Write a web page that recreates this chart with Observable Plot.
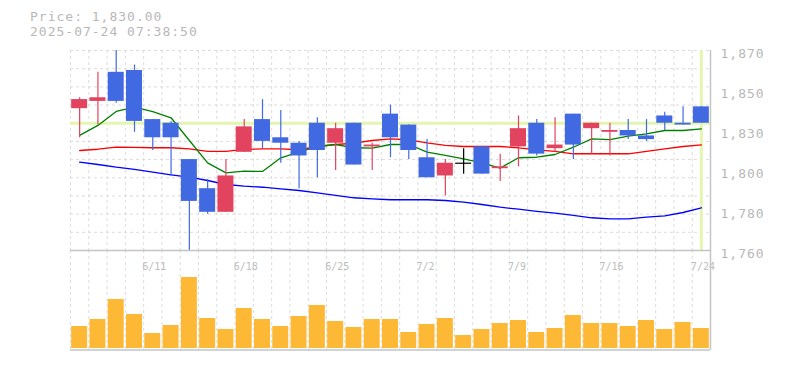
<!DOCTYPE html>
<html><head><meta charset="utf-8">
<script src="https://cdn.jsdelivr.net/npm/d3@7"></script>
<script src="https://cdn.jsdelivr.net/npm/@observablehq/plot@0.6"></script>
<style>
body{margin:0;background:#fff;}
#wrap{position:relative;width:785px;height:370px;overflow:hidden;background:#fff;}
#title{position:absolute;left:30px;top:9px;font-family:"DejaVu Sans Mono",monospace;font-size:13px;letter-spacing:1px;line-height:15px;color:#b8b8b8;white-space:pre;}
#price,#vol{position:absolute;left:0;}
#price{top:0;}
#vol{top:250px;}
#price g.ylab text{letter-spacing:1px;}
</style></head><body>
<div id="wrap"><div id="title"></div><div id="vol"></div><div id="price"></div></div>
<script>
const titleLines = ["Price: 1,830.00", "2025-07-24 07:38:50"];
const dates = ["6/5","6/6","6/9","6/10","6/11","6/12","6/13","6/16","6/17","6/18","6/19","6/20","6/23","6/24","6/25","6/26","6/27","6/30","7/1","7/2","7/3","7/4","7/7","7/8","7/9","7/10","7/11","7/14","7/15","7/16","7/17","7/18","7/22","7/23","7/24"];
const open  = [1838,1842,1858,1859,1832,1830,1810,1794,1781,1814,1832,1822,1819,1830,1819,1830,1817,1835,1829,1811,1801,1808,1817,1805,1817,1830,1816,1835,1827,1825,1826,1823,1834,1830,1839];
const high  = [1844,1858,1870,1862,1832,1831,1810,1799,1810,1832,1843,1837,1820,1833,1830,1830,1819,1840,1829,1821,1810,1816,1817,1813,1834,1832,1833,1835,1830,1830,1832,1832,1836,1839,1839];
const low   = [1822,1829,1841,1825,1815,1801,1760,1780,1781,1814,1816,1808,1794,1800,1804,1807,1804,1811,1810,1800,1790,1802,1802,1798,1806,1812,1814,1810,1813,1812,1821,1820,1826,1829,1830];
const close = [1843,1844,1842,1831,1822,1822,1787,1781,1801,1828,1820,1819,1812,1815,1827,1807,1818,1822,1815,1800,1808,1808,1802,1806,1827,1813,1818,1818,1830,1826,1823,1821,1830,1829,1830];
const ma5   = [1823.3,1828.8,1836.5,1838.8,1836.4,1833.0,1820.5,1808.2,1802.7,1803.6,1803.5,1811.0,1814.1,1817.2,1818.3,1816.5,1816.3,1818.3,1818.3,1814.1,1812.3,1810.4,1808.2,1805.3,1811.0,1811.3,1812.8,1816.8,1821.4,1821.0,1822.9,1824.2,1826.0,1826.0,1826.9];
const ma25  = [1815.0,1815.7,1816.8,1816.7,1816.5,1816.5,1815.9,1814.5,1814.5,1815.6,1815.9,1815.9,1815.4,1817.2,1818.3,1819.0,1820.5,1821.4,1820.9,1819.2,1817.8,1817.2,1817.2,1817.2,1816.5,1815.4,1814.5,1813.2,1813.2,1813.2,1813.2,1814.5,1815.9,1817.2,1818.1];
const ma75  = [1808.6,1807.3,1805.8,1804.6,1803.1,1801.6,1800.3,1798.5,1796.3,1795.4,1794.8,1793.9,1793.0,1791.7,1790.3,1789.0,1788.4,1787.9,1787.9,1787.9,1787.5,1786.6,1785.3,1783.8,1782.7,1781.5,1780.5,1779.3,1778.0,1777.4,1777.4,1778.3,1779.1,1780.9,1783.5];
const volume = [22000,29000,49000,34000,15000,23000,71000,30000,19000,40000,29000,22000,32000,43000,27000,21000,29000,29000,16000,24000,30000,13000,19000,25000,28000,16000,20000,33000,25000,25000,22000,28000,19000,26000,20000];
const yTicks = [1760,1782,1804,1826,1848,1870];
const yTickLabels = ["1,760","1,780","1,800","1,830","1,850","1,870"];
const yGrid = [1770,1780,1790,1800,1810,1820,1830,1840,1850,1860,1870];
const xTickLabels = ["6/11","6/18","6/25","7/2","7/9","7/16","7/24"];
const currentPrice = 1830;

document.getElementById("title").textContent = titleLines.join("\n");

const rows = dates.map((d,i)=>({date:d,open:open[i],high:high[i],low:low[i],close:close[i],ma5:ma5[i],ma25:ma25[i],ma75:ma75[i],volume:volume[i]}));
const upC = "#e2435f", downC = "#4169e1";
const col = r => r.close > r.open ? upC : (r.close < r.open ? downC : "#000000");
const W = 785, ML = 70, MR = 75;
const step = (W - ML - MR) / dates.length;
const xScale = {type:"band", domain:dates, paddingInner:0.125, paddingOuter:0.0625, round:false, axis:null};
const gridC = "#dcdcdc", borderC = "#c4c4c4", hiC = "#e4f5b0";
const last = dates[dates.length-1];

const price = Plot.plot({
  width:W, height:262, marginTop:50, marginBottom:12, marginLeft:ML, marginRight:MR,
  style:{background:"transparent", overflow:"visible", fontFamily:"DejaVu Sans Mono, monospace"},
  x:xScale,
  y:{domain:[1760,1870], axis:null},
  color:{type:"identity"},
  marks:[
    Plot.ruleY(yGrid,{stroke:gridC, strokeDasharray:"3,3"}),
    Plot.ruleX(dates,{x:d=>d, dx:-step/2, stroke:gridC, strokeDasharray:"3,3"}),
    Plot.ruleY([currentPrice],{stroke:hiC, strokeWidth:3}),
    Plot.ruleX([last],{stroke:hiC, strokeWidth:3}),
    Plot.line(rows,{x:"date", y:"ma75", stroke:"#0000ff", strokeWidth:1.3}),
    Plot.line(rows,{x:"date", y:"ma25", stroke:"#ff0000", strokeWidth:1.3}),
    Plot.line(rows,{x:"date", y:"ma5", stroke:"#008000", strokeWidth:1.3}),
    Plot.ruleX(rows,{x:"date", y1:"low", y2:"high", stroke:col, strokeWidth:1.2}),
    Plot.barY(rows.filter(r=>r.open!==r.close),{x:"date", y1:"open", y2:"close", fill:col}),
    Plot.tickY(rows.filter(r=>r.open===r.close),{x:"date", y:"close", stroke:"#000000", strokeWidth:1.2}),
    Plot.ruleY([1760],{stroke:borderC, strokeWidth:1.5}),
    Plot.ruleX([last],{dx:step/2, stroke:borderC, strokeWidth:1.5}),
    Plot.text(yTicks,{y:d=>d, text:(d,i)=>yTickLabels[i], frameAnchor:"right", textAnchor:"start", dx:10, dy:3, fill:"#b8b8b8", fontSize:13, className:"ylab"})
  ]
});
document.getElementById("price").appendChild(price);

const vol = Plot.plot({
  width:W, height:110, marginTop:0, marginBottom:10.5, marginLeft:ML, marginRight:MR,
  style:{background:"transparent", overflow:"visible", fontFamily:"DejaVu Sans Mono, monospace"},
  x:xScale,
  y:{domain:[0,98000], range:[98,0], axis:null},
  marks:[
    Plot.ruleX(dates,{x:d=>d, dx:-step/2, stroke:gridC, strokeDasharray:"3,3"}),
    Plot.barY(rows,{x:"date", y:"volume", fill:"#fdb836"}),
    Plot.text(xTickLabels,{x:d=>d, text:d=>d, frameAnchor:"top", textAnchor:"start", dx:-10.5, dy:12.5, fill:"#bdbdbd", fontSize:10}),
    Plot.ruleY([0],{dy:1.5, stroke:borderC, strokeWidth:1.5}),
    Plot.ruleX([last],{dx:step/2, stroke:borderC, strokeWidth:1.5})
  ]
});
document.getElementById("vol").appendChild(vol);
</script>
</body></html>
